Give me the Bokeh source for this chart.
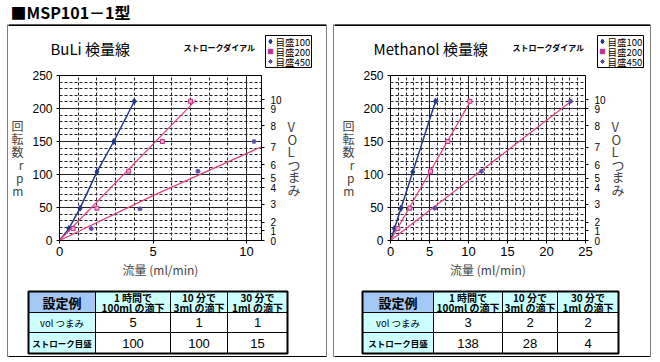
from bokeh.plotting import figure
from bokeh.layouts import row, column, Spacer
from bokeh.models import (FixedTicker, LinearAxis, Range1d, Axis)
from bokeh.core.properties import value
from bokeh.embed import file_html
from bokeh.resources import INLINE

JP = "Noto Sans CJK JP"
LAT = "Liberation Sans"

# ---------------- data ----------------
page_title = ["■MSP101－1型"]
dial_caption = "ストロークダイアル"
series_names = ["目盛100", "目盛200", "目盛450"]
x_axis_title = "流量 (ml/min)"
rpm_axis_title = "回\n転\n数\nr\np\nm"
vol_axis_title = "V\nO\nL\nつ\nま\nみ"

rpm_ticks = [0, 50, 100, 150, 200, 250]
rpm_minor = [0, 10, 20, 30, 40, 50, 60, 70, 80, 90, 100, 110, 120, 130, 140, 150,
             160, 170, 180, 190, 200, 210, 220, 230, 240, 250]
vol_labels = ["0", "1", "2", "3", "4", "5", "6", "7", "8", "9", "10"]
vol_rpm = [0, 15, 28, 55, 80, 94, 115, 141, 174, 200, 213]

# BuLi chart
buli_title = "BuLi 検量線"
buli_xmax = 10.8
buli_xticks = [0, 5, 10]
buli_xminor = [0, 1, 2, 3, 4, 5, 6, 7, 8, 9, 10]
buli_s100_x = [0, 0.5, 1.1, 2.0, 2.9, 4.0]
buli_s100_y = [0, 18, 49, 104, 150, 211]
buli_s200_x = [0.73, 2.0, 3.7, 5.5, 7.0]
buli_s200_y = [18, 49, 105, 150, 211]
buli_s200_fit_x = [0, 7.3]
buli_s200_fit_y = [0, 213]
buli_s450_x = [1.7, 4.3, 7.4, 10.4]
buli_s450_y = [18, 48, 105, 150]
buli_s450_fit_x = [0, 5, 10.8]
buli_s450_fit_y = [0, 68, 142]

# Methanol chart
meth_title = "Methanol 検量線"
meth_xmax = 25
meth_xticks = [0, 5, 10, 15, 20, 25]
meth_xminor = [0, 1, 2, 3, 4, 5, 6, 7, 8, 9, 10, 11, 12, 13, 14, 15, 16, 17, 18,
               19, 20, 21, 22, 23, 24, 25]
meth_s100_x = [0, 0.5, 1.35, 2.86, 5.77]
meth_s100_y = [0, 18, 49, 104, 211]
meth_s200_x = [0.94, 2.48, 5.13, 7.35, 10.17]
meth_s200_y = [18, 49, 105, 150, 211]
meth_s200_fit_x = [0, 10.3]
meth_s200_fit_y = [0, 212]
meth_s450_x = [5.69, 11.67, 23.08]
meth_s450_y = [49, 105, 211]
meth_s450_fit_x = [0, 23.3]
meth_s450_fit_y = [0, 212]

# tables
table_corner = "設定例"
table_head_1 = ["1 時間で", "10 分で", "30 分で"]
table_head_2 = ["100ml の滴下", "3ml の滴下", "1ml の滴下"]
table_rows = ["vol つまみ", "ストローク目盛"]
buli_vol = ["5", "1", "1"]
buli_stroke = ["100", "100", "15"]
meth_vol = ["3", "2", "2"]
meth_stroke = ["138", "28", "4"]

BLUE = "#22378f"
PINK = "#e0407e"
SQ_FILL = "#f4a6c8"
SQ_LINE = "#c42c86"
LEG_SQ = "#b8309a"
STAR = "#5b4aa8"
HEAD_BLUE = "#a4c8f4"
CYAN = "#ccffff"

HAS_ORIENT = "axis_label_orientation" in Axis.properties()


def pixel_fig(w, h, bg="white"):
    p = figure(width=w, height=h, output_backend="svg", toolbar_location=None,
               x_range=Range1d(0, w), y_range=Range1d(h, 0),
               x_axis_type=None, y_axis_type=None, min_border=0,
               background_fill_color=bg, border_fill_color=bg,
               outline_line_color=None, frame_align=False)
    p.grid.visible = False
    return p


def vline(h):
    return pixel_fig(1, h, bg="black")


def style_axis(ax, size):
    ax.axis_line_color = "black"
    ax.major_tick_line_color = "black"
    ax.major_tick_in = 0
    ax.major_tick_out = 3
    ax.minor_tick_line_color = None
    ax.major_label_text_font = LAT
    ax.major_label_text_font_size = f"{size}px"
    ax.major_label_text_color = "black"


def header_fig(w, title, title_x, cap_x, lx):
    h = 46
    p = pixel_fig(w, h)
    p.quad(left=[0], right=[w], top=[0], bottom=[1], color="black")
    p.text(x=[title_x], y=[24], text=[title], text_font=value(JP),
           text_font_size="15px", text_baseline="middle", text_align="left",
           text_color="black")
    p.text(x=[cap_x], y=[23], text=[dial_caption], text_font=value(JP),
           text_font_size="8px", text_font_style="bold", text_baseline="middle",
           text_align="left", text_color="black")
    # legend box (stroke dial series)
    ly = [17, 27, 37]
    p.quad(left=[lx], right=[lx + 46], top=[11], bottom=[43], fill_color="white",
           line_color="black", line_width=1)
    p.scatter(x=[lx + 5], y=[ly[0]], marker="diamond", size=5, color=BLUE)
    p.scatter(x=[lx + 5], y=[ly[1]], marker="square", size=4.5, color=LEG_SQ)
    p.scatter(x=[lx + 5], y=[ly[2]], marker="asterisk", size=4.5, line_color=STAR,
              line_width=1)
    p.text(x=[lx + 10] * 3, y=ly, text=series_names, text_font=value(JP),
           text_font_size="9.5px", text_baseline="middle", text_align="left",
           text_color="black")
    return p


def chart_fig(w, bl, br, xmax, xticks, xminor, s100, s200, s200fit, s450, s450fit):
    p = figure(width=w, height=210, output_backend="svg", toolbar_location=None,
               x_range=Range1d(0, xmax), y_range=Range1d(0, 250),
               min_border_left=bl, min_border_right=br, min_border_top=5,
               min_border_bottom=40, background_fill_color="white",
               border_fill_color="white", outline_line_color="black",
               frame_align=False)
    p.xaxis.ticker = FixedTicker(ticks=xticks, minor_ticks=xminor)
    p.yaxis.ticker = FixedTicker(ticks=rpm_ticks, minor_ticks=rpm_minor)
    style_axis(p.xaxis[0], 13)
    style_axis(p.yaxis[0], 12)
    p.xaxis.major_label_standoff = 2
    p.yaxis.major_label_standoff = 3
    p.xaxis.axis_label = x_axis_title
    p.xaxis.axis_label_text_font = JP
    p.xaxis.axis_label_text_font_size = "12px"
    p.xaxis.axis_label_text_font_style = "normal"
    p.xaxis.axis_label_standoff = 2
    yax = p.yaxis[0]
    yax.axis_label_text_font = JP
    yax.axis_label_text_font_size = "12px"
    yax.axis_label_text_font_style = "normal"
    if HAS_ORIENT:
        yax.axis_label = rpm_axis_title
        yax.axis_label_orientation = "horizontal"
        yax.axis_label_text_line_height = 0.76
        yax.axis_label_standoff = 6
    else:
        yax.axis_label = rpm_axis_title.replace("\n", "")
        yax.axis_label_standoff = 4
    for g in (p.xgrid, p.ygrid):
        g.grid_line_color = "#222222"
        g.grid_line_width = 1
        g.minor_grid_line_color = "#222222"
        g.minor_grid_line_dash = "3 2"
        g.minor_grid_line_width = 1

    vol_axis = LinearAxis(ticker=FixedTicker(ticks=vol_rpm),
                          major_label_overrides={v: l for v, l in zip(vol_rpm, vol_labels)})
    style_axis(vol_axis, 10)
    vol_axis.major_label_standoff = 6
    vol_axis.axis_label_text_font = JP
    vol_axis.axis_label_text_font_size = "13px"
    vol_axis.axis_label_text_font_style = "normal"
    if HAS_ORIENT:
        vol_axis.axis_label = vol_axis_title
        vol_axis.axis_label_orientation = "horizontal"
        vol_axis.axis_label_text_line_height = 0.66
        vol_axis.axis_label_standoff = 3
    else:
        vol_axis.axis_label = vol_axis_title.replace("\n", "")
        vol_axis.axis_label_standoff = 3
    p.add_layout(vol_axis, "right")

    p.line(s100[0], s100[1], color=BLUE, line_width=1.5)
    p.scatter(s100[0], s100[1], marker="diamond", size=6, color=BLUE)
    p.line(s200fit[0], s200fit[1], color=PINK, line_width=1.2)
    p.scatter(s200[0], s200[1], marker="square", size=4,
              fill_color=SQ_FILL, line_color=SQ_LINE)
    p.line(s450fit[0], s450fit[1], color=PINK, line_width=1.2)
    p.scatter(s450[0], s450[1], marker="asterisk", size=5, line_color=STAR,
              line_width=1.2)
    return p


def table_fig(w, ce, vol_vals, stroke_vals):
    h = 77
    p = pixel_fig(w, h)
    ry = [11, 32, 52, 73]
    L, R, T, B, F = [], [], [], [], []
    for i in range(4):
        for j in range(3):
            L.append(ce[i]); R.append(ce[i + 1]); T.append(ry[j]); B.append(ry[j + 1])
            if j == 0:
                F.append(HEAD_BLUE if i == 0 else CYAN)
            else:
                F.append(CYAN if i == 0 else "white")
    p.quad(left=L, right=R, top=T, bottom=B, fill_color=F, line_color="black",
           line_width=1)
    p.quad(left=[ce[0]], right=[ce[4]], top=[ry[0]], bottom=[ry[3]],
           fill_alpha=0, line_color="black", line_width=2)
    p.quad(left=[0], right=[w], top=[h - 1], bottom=[h], color="black")

    cx = [(ce[i + 1] + ce[i + 2]) / 2 for i in range(3)]
    c0 = (ce[0] + ce[1]) / 2
    p.text(x=[c0], y=[21.5], text=[table_corner], text_font=value(JP),
           text_font_size="13px", text_font_style="bold", text_align="center",
           text_baseline="middle", text_color="black")
    p.text(x=cx, y=[17] * 3, text=table_head_1, text_font=value(JP),
           text_font_size="10px", text_font_style="bold", text_align="center",
           text_baseline="middle", text_color="black")
    p.text(x=cx, y=[26.5] * 3, text=table_head_2, text_font=value(JP),
           text_font_size="10px", text_font_style="bold", text_align="center",
           text_baseline="middle", text_color="black")
    p.text(x=cx, y=[42] * 3, text=vol_vals, text_font=value(LAT),
           text_font_size="13px", text_align="center", text_baseline="middle",
           text_color="black")
    p.text(x=cx, y=[62.5] * 3, text=stroke_vals, text_font=value(LAT),
           text_font_size="13px", text_align="center", text_baseline="middle",
           text_color="black")
    p.text(x=[c0], y=[42], text=[table_rows[0]], text_font=value(JP),
           text_font_size="9.5px", text_align="center", text_baseline="middle",
           text_color="black")
    p.text(x=[c0], y=[62.5], text=[table_rows[1]], text_font=value(JP),
           text_font_size="8.5px", text_font_style="bold", text_align="center",
           text_baseline="middle", text_color="black")
    return p


def panel(w, title, title_x, cap_x, leg_x, bl, br, xmax, xticks, xminor, s100, s200,
          s200fit, s450, s450fit, ce, vol_vals, stroke_vals):
    inner = column(header_fig(w, title, title_x, cap_x, leg_x),
                   chart_fig(w, bl, br, xmax, xticks, xminor, s100, s200, s200fit,
                             s450, s450fit),
                   table_fig(w, ce, vol_vals, stroke_vals), spacing=0)
    return row(vline(333), inner, vline(333), spacing=0)


title_p = pixel_fig(656, 24)
title_p.text(x=[10], y=[23], text=page_title, text_font=value(JP),
             text_font_size="16px", text_font_style="bold", text_baseline="bottom",
             text_align="left", text_color="black")

left = panel(318, buli_title, 42, 175, 257, 51, 65, buli_xmax, buli_xticks,
             buli_xminor, (buli_s100_x, buli_s100_y), (buli_s200_x, buli_s200_y),
             (buli_s200_fit_x, buli_s200_fit_y), (buli_s450_x, buli_s450_y),
             (buli_s450_fit_x, buli_s450_fit_y), [20, 87, 162, 219, 279],
             buli_vol, buli_stroke)
right = panel(316, meth_title, 39, 178, 263, 56, 65, meth_xmax, meth_xticks,
              meth_xminor, (meth_s100_x, meth_s100_y), (meth_s200_x, meth_s200_y),
              (meth_s200_fit_x, meth_s200_fit_y), (meth_s450_x, meth_s450_y),
              (meth_s450_fit_x, meth_s450_fit_y), [28, 99, 168, 223, 284],
              meth_vol, meth_stroke)

layout = column(title_p,
                row(Spacer(width=7, height=1), left, Spacer(width=6, height=1), right,
                    spacing=0),
                spacing=0)
open("out.html", "w").write(file_html(layout, INLINE))
